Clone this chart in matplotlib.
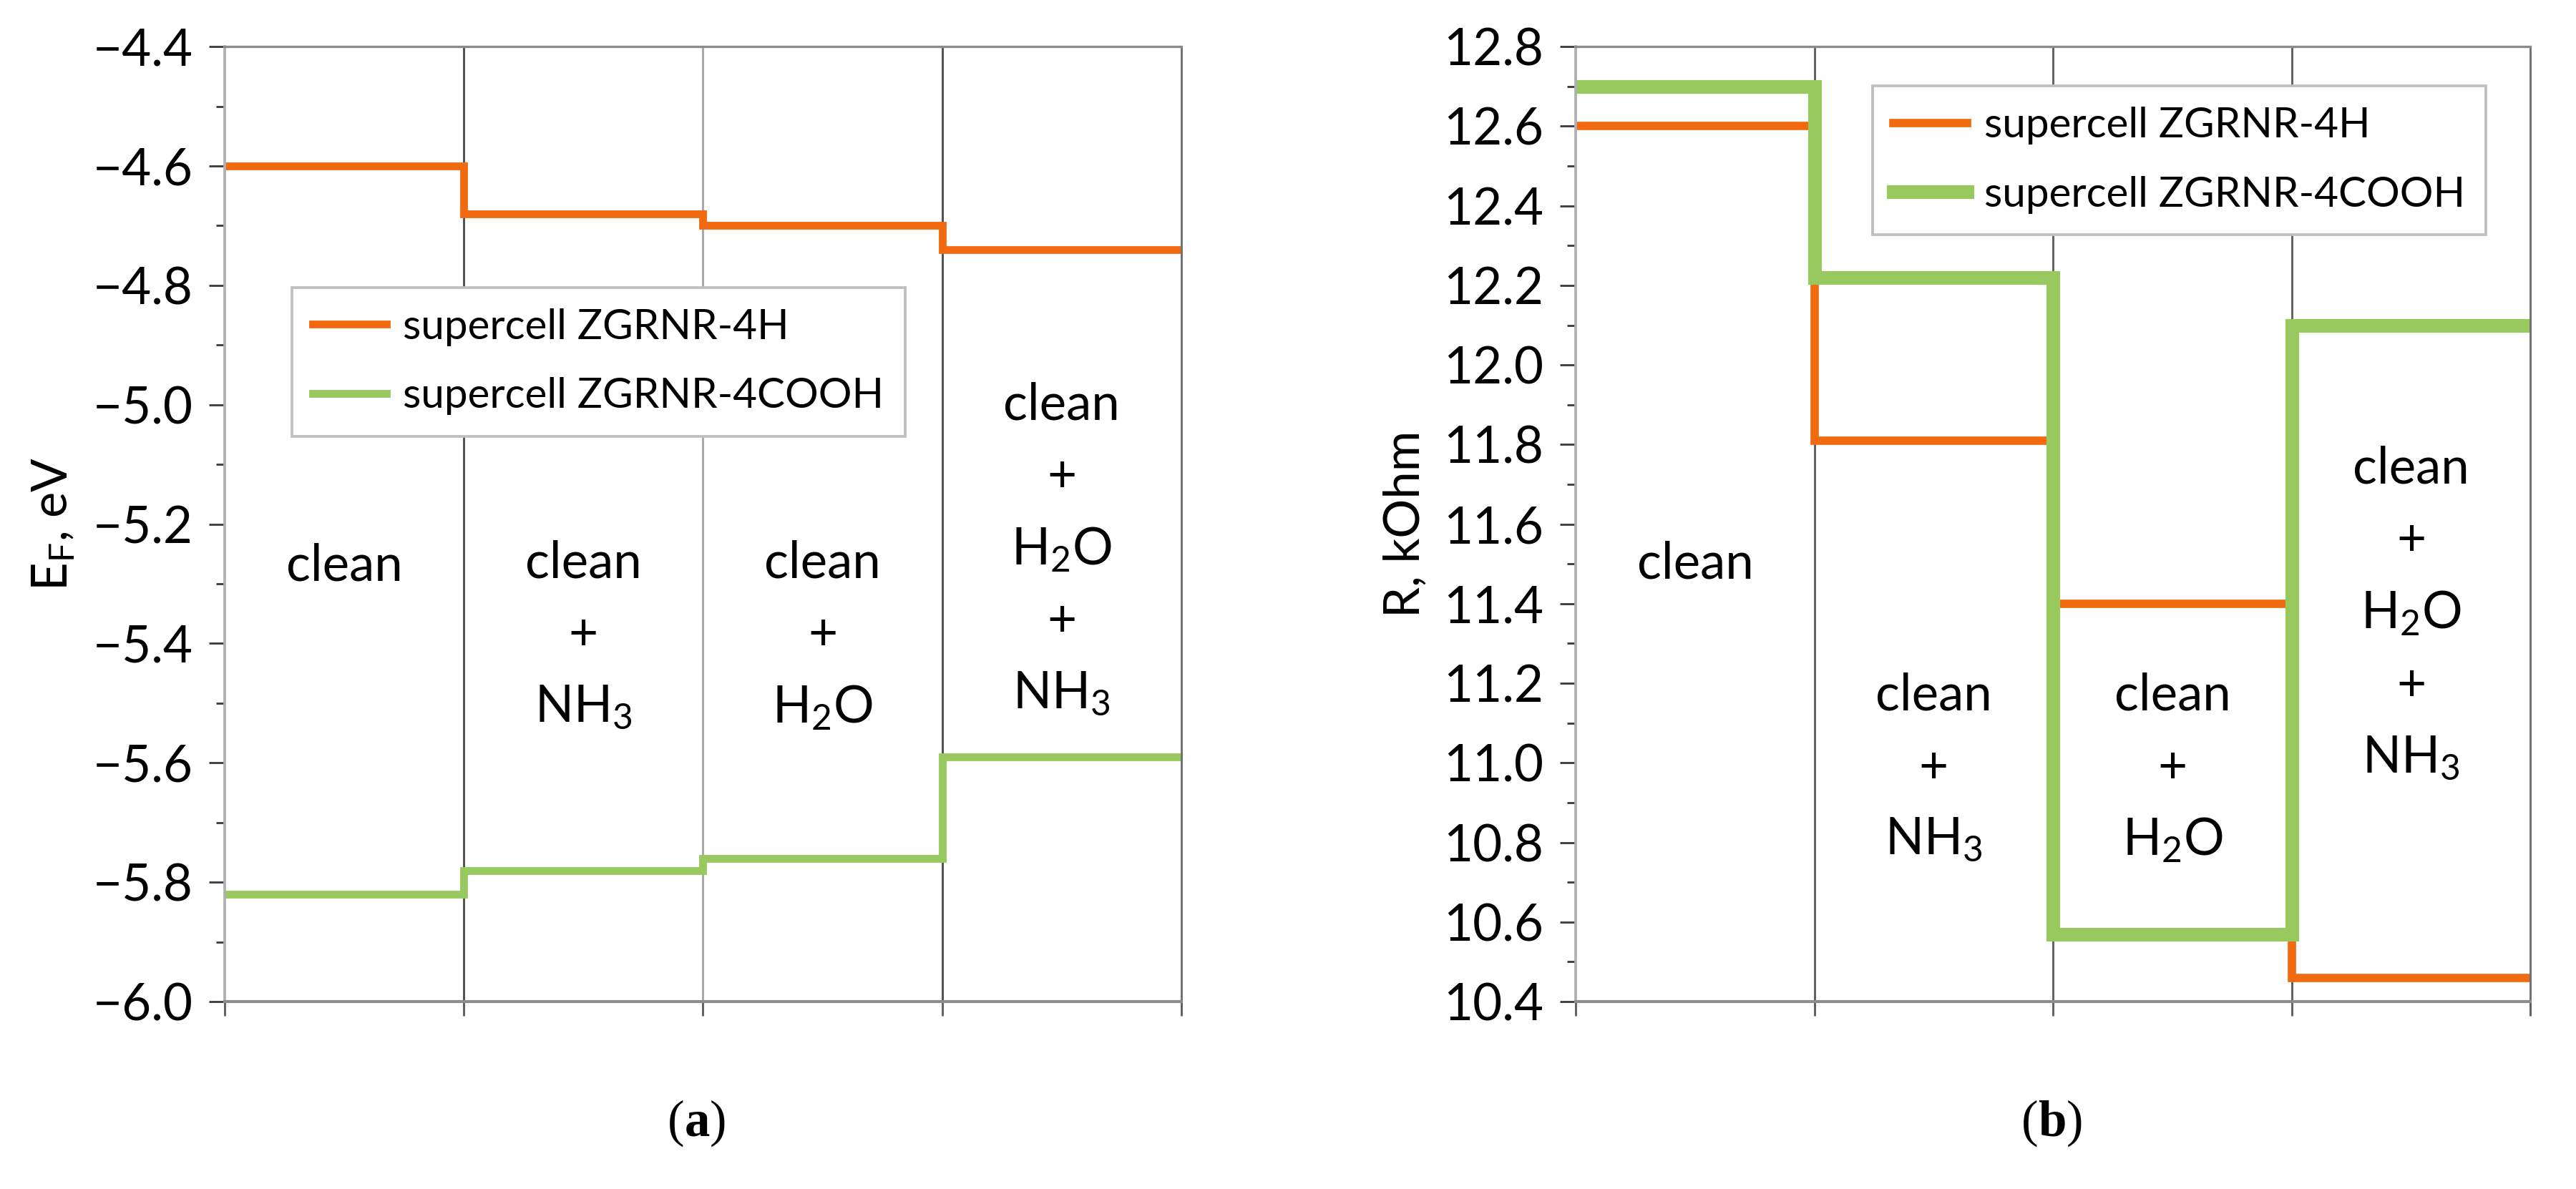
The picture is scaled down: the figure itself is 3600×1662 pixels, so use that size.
import numpy as np
import matplotlib
matplotlib.use('Agg')
import matplotlib.pyplot as plt
from matplotlib.ticker import MultipleLocator, FuncFormatter

plt.rcParams['font.family'] = ['Lato', 'DejaVu Sans']
plt.rcParams['mathtext.fontset'] = 'custom'
plt.rcParams['mathtext.rm'] = 'Lato'
plt.rcParams['mathtext.it'] = 'Lato'

# data
stages = ['clean', 'clean + NH3', 'clean + H2O', 'clean + H2O + NH3']
series = ['supercell ZGRNR-4H', 'supercell ZGRNR-4COOH']
ef_4h = [-4.60, -4.68, -4.70, -4.74]
ef_4cooh = [-5.82, -5.78, -5.76, -5.59]
r_4h = [12.60, 11.81, 11.40, 10.46]
r_4cooh = [12.70, 12.22, 10.57, 12.10]

stage_lines = [['clean'],
               ['clean', '+', 'NH$_3$'],
               ['clean', '+', 'H$_2$O'],
               ['clean', '+', 'H$_2$O', '+', 'NH$_3$']]

orange = '#F26A10'
green = '#97C95F'

fig = plt.figure(figsize=(12, 5.54), dpi=300)
ax1 = fig.add_axes([0.0872, 0.1576, 0.3714, 0.8032])
ax2 = fig.add_axes([0.6117, 0.1576, 0.3706, 0.8032])


def stepline(ax, vals, **kw):
    x = np.arange(len(vals) + 1)
    y = list(vals) + [vals[-1]]
    return ax.step(x, y, where='post', solid_joinstyle='miter', **kw)


def minus_fmt(v, pos):
    return ('%.1f' % v).replace('-', '\u2212')


def style(ax, ylim, ylabel, grid_cols):
    ax.set_xlim(0, len(stages))
    ax.set_ylim(*ylim)
    ax.set_xticks(np.arange(len(stages) + 1))
    ax.set_xticklabels([])
    for i, c in enumerate(grid_cols):
        ax.axvline(i + 1, color=c, lw=0.7, zorder=0.5)
    ax.yaxis.set_major_locator(MultipleLocator(0.2))
    ax.yaxis.set_minor_locator(MultipleLocator(0.1))
    ax.yaxis.set_major_formatter(FuncFormatter(minus_fmt))
    ax.tick_params(axis='x', length=4.8, width=0.7, color='#606060', direction='out')
    ax.tick_params(axis='y', which='major', length=5.2, width=0.7, color='#404040',
                   labelsize=17, pad=5.5)
    ax.tick_params(axis='y', which='minor', length=2.8, width=0.7, color='#404040')
    ax.spines['left'].set_color('#b0b0b0')
    ax.spines['left'].set_linewidth(0.9)
    ax.spines['top'].set_color('#8a8a8a')
    ax.spines['top'].set_linewidth(0.8)
    ax.spines['right'].set_color('#707070')
    ax.spines['right'].set_linewidth(0.7)
    ax.spines['bottom'].set_color('#8c8c8c')
    ax.spines['bottom'].set_linewidth(1.0)
    ax.set_ylabel(ylabel, fontsize=16.5)
    ax.yaxis.set_label_coords(-0.155, 0.5)


def stage_text(ax, tops, step):
    for i, lines in enumerate(stage_lines):
        for j, s in enumerate(lines):
            ax.text(i + 0.5, tops[i] - j * step, s, ha='center', va='center', fontsize=17)


def add_legend(ax, anchor):
    leg = ax.legend(loc='upper left', bbox_to_anchor=anchor, borderaxespad=0,
                    fontsize=14, fancybox=False, edgecolor='#bfbfbf', framealpha=1,
                    handlelength=1.77, handletextpad=0.4, borderpad=0.5,
                    labelspacing=0.75)
    leg.get_frame().set_linewidth(0.9)


# (a) Fermi level
stepline(ax1, ef_4h, color=orange, lw=2.6, label=series[0])
stepline(ax1, ef_4cooh, color=green, lw=2.6, label=series[1])
style(ax1, (-6.0, -4.4), 'E$_\\mathrm{F}$, eV', ['#505050', '#a8a8a8', '#505050'])
stage_text(ax1, [-5.27, -5.265, -5.265, -5.0], 0.121)
add_legend(ax1, (0.070, 0.748))

# (b) resistance
stepline(ax2, r_4h, color=orange, lw=2.8, label=series[0])
stepline(ax2, r_4cooh, color=green, lw=4.6, label=series[1])
style(ax2, (10.4, 12.8), 'R, kOhm', ['#606060', '#606060', '#606060'])
stage_text(ax2, [11.50, 11.17, 11.17, 11.74], 0.182)
add_legend(ax2, (0.311, 0.959))

# panel labels
for xc, letter in [(0.2717, 'a'), (0.7972, 'b')]:
    t2 = fig.text(xc - 0.006, 0.045, letter, ha='left', va='baseline', fontsize=17,
                  family='Liberation Serif', weight='bold')
    fig.text(xc - 0.006, 0.045, '(', ha='right', va='baseline', fontsize=17,
             family='Liberation Serif')
    fig.canvas.draw()
    bb = t2.get_window_extent()
    x_end = fig.transFigure.inverted().transform((bb.x1, bb.y0))[0]
    fig.text(x_end, 0.045, ')', ha='left', va='baseline', fontsize=17,
             family='Liberation Serif')

fig.savefig('out.png', dpi=300, facecolor='white')
